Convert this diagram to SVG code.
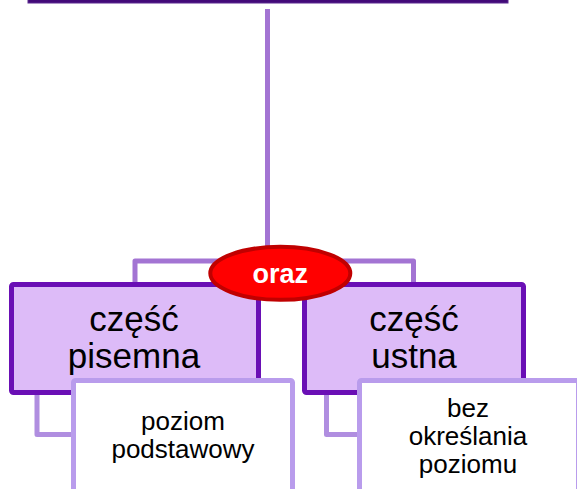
<svg xmlns="http://www.w3.org/2000/svg" width="577" height="489" viewBox="0 0 577 489">
<style>
.conn{fill:none;stroke:#A374D3;stroke-width:5;stroke-linejoin:round}
.conn2{fill:none;stroke:#B08EE0;stroke-width:5;stroke-linejoin:round}
.main{fill:#DDBBF8;stroke:#6A0FB5;stroke-width:5}
.sub{fill:#FFFFFF;stroke:#B99CEC;stroke-width:5}
.t{font-family:"Liberation Sans",Arial,sans-serif;text-anchor:middle;fill:#000}
.big{font-size:35px}
.small{font-size:26px}
</style>
<g id="top">
<rect x="28" y="-20" width="480" height="23" fill="#420A78" stroke="#5A2890" stroke-width="1"/>
</g>
<g id="connectors">
<line x1="267.5" y1="9" x2="267.5" y2="262" class="conn" stroke-width="6"/>
<path d="M135,284 V261 H413.5 V284" class="conn"/>
<path d="M37,395 V434.5 H74" class="conn2"/>
<path d="M326.5,395 V434.5 H360" class="conn2"/>
</g>
<g id="node-pisemna">
<rect x="11.5" y="284.5" width="247" height="108" rx="2" class="main"/>
<text class="t big" x="134" y="331">część</text>
<text class="t big" x="134" y="368">pisemna</text>
</g>
<g id="node-ustna">
<rect x="304.5" y="284.5" width="219" height="108" rx="2" class="main"/>
<text class="t big" x="414" y="331">część</text>
<text class="t big" x="414" y="368">ustna</text>
</g>
<g id="node-podstawowy">
<rect x="73.5" y="380.5" width="219" height="120" rx="2" class="sub"/>
<text class="t small" x="183" y="430">poziom</text>
<text class="t small" x="183" y="458">podstawowy</text>
</g>
<g id="node-bez">
<rect x="359.5" y="380.5" width="219" height="120" rx="2" class="sub"/>
<text class="t small" x="468" y="417">bez</text>
<text class="t small" x="468" y="445">określania</text>
<text class="t small" x="468" y="473">poziomu</text>
</g>
<g id="node-oraz">
<ellipse cx="280.3" cy="273.3" rx="70" ry="26.5" fill="#FF0000" stroke="#C00000" stroke-width="4"/>
<text class="t" x="280.3" y="283" font-size="27" font-weight="bold" style="fill:#FFFFFF">oraz</text>
</g>
</svg>
